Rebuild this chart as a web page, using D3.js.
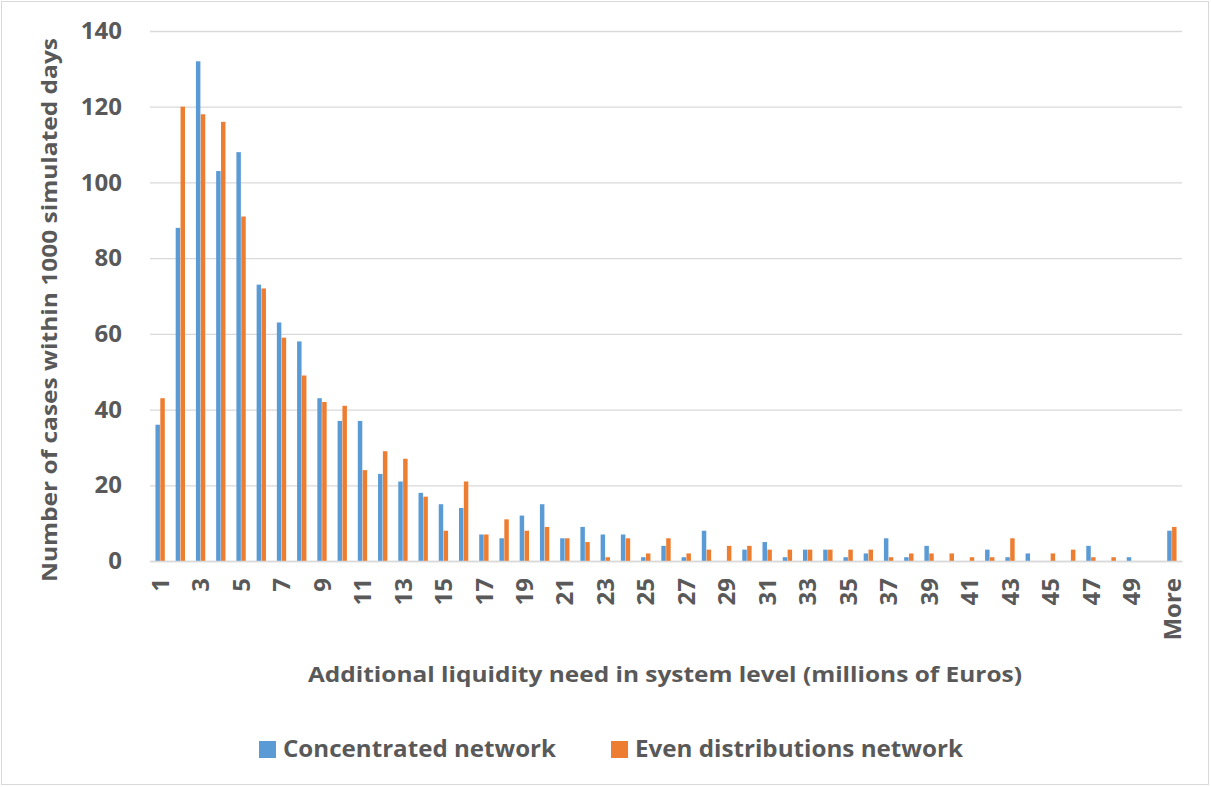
<!DOCTYPE html>
<html>
<head>
<meta charset="utf-8">
<script src="https://cdn.jsdelivr.net/npm/d3@7"></script>
<style>
  body { margin: 0; background: #fff; }
  text { font-family: "Open Sans", Lato, sans-serif; font-weight: 700; fill: #595959; }
</style>
</head>
<body>
<div id="chart"></div>
<script>
// histogram bins: 1..50 plus overflow bin
const categories = ["1","2","3","4","5","6","7","8","9","10",
  "11","12","13","14","15","16","17","18","19","20",
  "21","22","23","24","25","26","27","28","29","30",
  "31","32","33","34","35","36","37","38","39","40",
  "41","42","43","44","45","46","47","48","49","50","More"];

const concentrated = [36, 88, 132, 103, 108, 73, 63, 58, 43, 37,
  37, 23, 21, 18, 15, 14, 7, 6, 12, 15,
  6, 9, 7, 7, 1, 4, 1, 8, 0, 3,
  5, 1, 3, 3, 1, 2, 6, 1, 4, 0,
  0, 3, 1, 2, 0, 0, 4, 0, 1, 0, 8];

const evenDist = [43, 120, 118, 116, 91, 72, 59, 49, 42, 41,
  24, 29, 27, 17, 8, 21, 7, 11, 8, 9,
  6, 5, 1, 6, 2, 6, 2, 3, 4, 4,
  3, 3, 3, 3, 3, 3, 1, 2, 2, 2,
  1, 1, 6, 0, 2, 3, 1, 1, 0, 0, 9];

const seriesNames = ["Concentrated network", "Even distributions network"];
const colors = ["#5B9BD5", "#ED7D31"];
const yTicks = [0, 20, 40, 60, 80, 100, 120, 140];

const width = 1211, height = 787;
const margin = {left: 150, right: 29, top: 31, bottom: 226};

const svg = d3.select("#chart")
    .append("svg")
    .attr("width", width)
    .attr("height", height);

// outer chart border
svg.append("rect")
    .attr("x", 1.5).attr("y", 1.5)
    .attr("width", 1207).attr("height", 783)
    .attr("fill", "#fff")
    .attr("stroke", "#d9d9d9");

const rows = categories.map((c, i) => ({cat: c, vals: [concentrated[i], evenDist[i]]}));

const x0 = d3.scaleBand()
    .domain(categories)
    .range([margin.left, width - margin.right])
    .paddingInner(0.5)
    .paddingOuter(0.25);

const x1 = d3.scaleBand()
    .domain([0, 1])
    .range([0, x0.bandwidth()])
    .padding(0.08);

const y = d3.scaleLinear()
    .domain([0, 140])
    .range([height - margin.bottom, margin.top]);

// y axis with gridlines
const yAxis = svg.append("g")
    .attr("transform", `translate(${margin.left},0)`)
    .call(d3.axisLeft(y).tickValues(yTicks).tickSize(-(width - margin.left - margin.right)).tickPadding(28));
yAxis.select(".domain").remove();
yAxis.selectAll("line").attr("stroke", "#d9d9d9").attr("stroke-width", 1.3);
yAxis.selectAll("text").attr("font-size", "24px").style("font-family", null);

// bars
const groups = svg.append("g")
    .selectAll("g")
    .data(rows)
    .join("g")
    .attr("transform", d => `translate(${x0(d.cat)},0)`);

groups.selectAll("rect")
    .data(d => d.vals.map((v, k) => ({k: k, v: v})))
    .join("rect")
    .attr("x", d => x1(d.k))
    .attr("y", d => y(d.v))
    .attr("width", x1.bandwidth())
    .attr("height", d => y(0) - y(d.v))
    .attr("fill", d => colors[d.k]);

// x axis
const xAxis = svg.append("g")
    .attr("transform", `translate(0,${y(0)})`)
    .call(d3.axisBottom(x0).tickValues(categories.filter((c, i) => i % 2 === 0)).tickSize(0));
xAxis.select(".domain").attr("stroke", "#d9d9d9").attr("stroke-width", 1.3);
xAxis.selectAll("text")
    .attr("font-size", "24px")
    .style("font-family", null)
    .attr("transform", "rotate(-90)")
    .attr("x", -17)
    .attr("y", 0)
    .attr("dy", "0.36em")
    .style("text-anchor", "end");

// axis titles
svg.append("text")
    .attr("transform", "translate(57,310) rotate(-90)")
    .attr("text-anchor", "middle")
    .attr("font-size", "22px")
    .attr("textLength", 544)
    .attr("lengthAdjust", "spacingAndGlyphs")
    .text("Number of cases within 1000 simulated days");

svg.append("text")
    .attr("x", 665)
    .attr("y", 682)
    .attr("text-anchor", "middle")
    .attr("font-size", "22px")
    .attr("textLength", 714)
    .attr("lengthAdjust", "spacingAndGlyphs")
    .text("Additional liquidity need in system level (millions of Euros)");

// legend
const legendX = [259, 611];
const legendW = [273, 328];
const legend = svg.append("g");
seriesNames.forEach((name, i) => {
  legend.append("rect")
      .attr("x", legendX[i]).attr("y", 741)
      .attr("width", 17).attr("height", 17)
      .attr("fill", colors[i]);
  legend.append("text")
      .attr("x", legendX[i] + 24)
      .attr("y", 757)
      .attr("font-size", "24px")
      .attr("textLength", legendW[i])
      .attr("lengthAdjust", "spacingAndGlyphs")
      .text(name);
});
</script>
</body>
</html>
